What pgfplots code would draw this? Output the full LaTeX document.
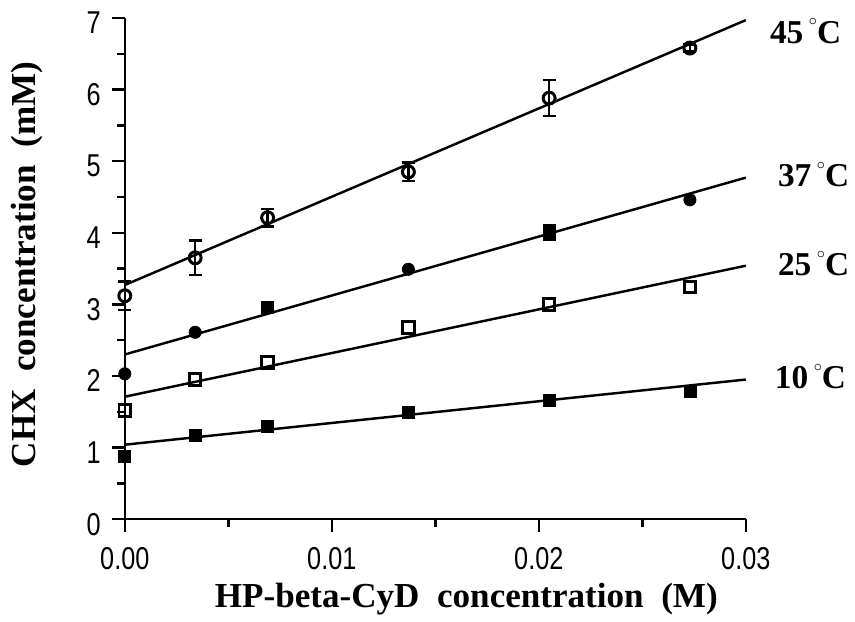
\documentclass[border=0pt]{standalone}
\usepackage{fontspec}
\setmainfont{Liberation Serif}
\newfontfamily\tickfont[FakeStretch=0.8]{Liberation Sans}
\usepackage{pgfplots}
\pgfplotsset{compat=1.18}

\newcommand{\degC}{\,\raisebox{1.15ex}{\fontsize{9}{9}\selectfont$\circ$}C}

\begin{document}
\begin{tikzpicture}
\begin{axis}[
  scale only axis, width=12.44cm, height=10.04cm,
  xmin=0, xmax=0.03, ymin=0, ymax=7,
  axis x line=bottom, axis y line=left,
  axis line style={-, line width=1.4pt},
  xtick={0,0.01,0.02,0.03}, xticklabels={0.00,0.01,0.02,0.03},
  scaled x ticks=false,
  ytick={0,1,2,3,4,5,6,7},
  minor x tick num=1, minor y tick num=1,
  tick align=outside, major tick length=0.26cm, minor tick length=0.15cm,
  tick style={line width=1.4pt, black},
  tick label style={font=\tickfont\fontsize{18}{18}\selectfont, /pgf/number format/assume math mode=true},
  yticklabel style={yshift=-0.1cm, xshift=-0.1cm},
  xticklabel style={yshift=-0.18cm},
  xlabel={HP-beta-CyD\ \ concentration\ \ (M)},
  ylabel={CHX\ \ concentration\ \ (mM)},
  label style={font=\bfseries\fontsize{20}{20}\selectfont},
  xlabel style={at={(axis description cs:0.55,-0.16)}, anchor=center},
  ylabel style={at={(axis description cs:-0.158,0.508)}, anchor=center, rotate=0},
  clip=false,
]
% fitted lines
\addplot[line width=1.4pt] coordinates {(0,3.27) (0.03,6.97)};
\addplot[line width=1.4pt] coordinates {(0,2.30) (0.03,4.77)};
\addplot[line width=1.4pt] coordinates {(0,1.71) (0.03,3.54)};
\addplot[line width=1.4pt] coordinates {(0,1.04) (0.03,1.95)};

% 45 C
\addplot[only marks, mark=o, mark size=3.4pt, mark options={line width=1.7pt, fill=white},
  error bars/.cd, y dir=both, y explicit,
  error bar style={line width=1.4pt},
  error mark options={rotate=90, mark size=0.13cm, line width=1.4pt}]
  coordinates {(0,3.12) +- (0,0.20) (0.0034,3.65) +- (0,0.24) (0.0069,4.21) +- (0,0.12)
    (0.0137,4.85) +- (0,0.13) (0.0205,5.88) +- (0,0.25) (0.0273,6.58) +- (0,0.05)};
% 37 C
\addplot[only marks, mark=*, mark size=3.5pt, mark options={fill=black}]
  coordinates {(0,2.03) (0.0034,2.61) (0.0137,3.49) (0.0273,4.46)};
\addplot[only marks, mark=square*, mark size=3.4pt, mark options={fill=black},
  error bars/.cd, y dir=both, y explicit,
  error bar style={line width=1.4pt},
  error mark options={rotate=90, mark size=0.13cm, line width=1.4pt}]
  coordinates {(0.0069,2.96) +- (0,0) (0.0205,4.0) +- (0,0.1)};
% 25 C
\addplot[only marks, mark=square, mark size=3.3pt, mark options={line width=1.7pt, fill=white}]
  coordinates {(0,1.52) (0.0034,1.95) (0.0069,2.19) (0.0137,2.68) (0.0205,3.0) (0.0273,3.24)};
% 10 C
\addplot[only marks, mark=square*, mark size=3.4pt, mark options={fill=black}]
  coordinates {(0,0.88) (0.0034,1.17) (0.0069,1.30) (0.0137,1.49) (0.0205,1.66) (0.0273,1.78)};

\node[anchor=west, font=\bfseries\fontsize{19}{19}\selectfont] at (axis cs:0.03087,6.82) {45\degC};
\node[anchor=west, font=\bfseries\fontsize{19}{19}\selectfont] at (axis cs:0.03126,4.81) {37\degC};
\node[anchor=west, font=\bfseries\fontsize{19}{19}\selectfont] at (axis cs:0.03126,3.57) {25\degC};
\node[anchor=west, font=\bfseries\fontsize{19}{19}\selectfont] at (axis cs:0.03111,1.99) {10\degC};
\end{axis}
\useasboundingbox (-2.5,-1.86) rectangle (14.6,10.4);
\end{tikzpicture}
\end{document}
